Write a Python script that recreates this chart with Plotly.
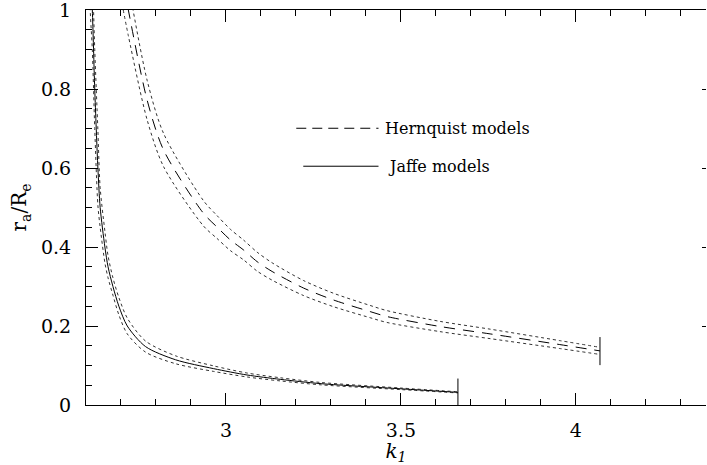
import plotly.graph_objects as go

# Jaffe models: central curve and dotted bounds
jaffe_k1 = [2.605, 2.612, 2.618, 2.625, 2.634, 2.6405, 2.654, 2.663, 2.677, 2.694, 2.718,
            2.770, 2.856, 2.965, 3.06, 3.155, 3.272, 3.50, 3.663]
jaffe_ra = [1.35, 1.1, 1.0, 0.8, 0.6, 0.5, 0.4, 0.35, 0.3, 0.25, 0.2,
            0.148, 0.1145, 0.092, 0.076, 0.065, 0.054, 0.041, 0.032]
jaffe_hi = [1.45, 1.2, 1.10, 0.90, 0.695, 0.55, 0.44, 0.378, 0.322, 0.272, 0.22,
            0.162, 0.1245, 0.099, 0.081, 0.069, 0.057, 0.043, 0.0335]
jaffe_lo = [1.25, 1.0, 0.90, 0.70, 0.505, 0.45, 0.36, 0.322, 0.278, 0.228, 0.18,
            0.134, 0.1045, 0.085, 0.071, 0.061, 0.051, 0.039, 0.0305]

# Hernquist models: central curve and dotted bounds
hern_k1 = [2.70, 2.721, 2.775, 2.822, 2.936, 2.974, 3.0125, 3.051, 3.089, 3.132, 3.222, 3.307,
           3.412, 3.46, 3.61, 3.755, 3.954, 4.069]
hern_ra = [1.10, 1.0, 0.771, 0.645, 0.485, 0.451, 0.418, 0.392, 0.363, 0.338, 0.296, 0.266,
           0.2365, 0.224, 0.199, 0.180, 0.153, 0.137]
hern_hi = [1.17, 1.065, 0.821, 0.687, 0.517, 0.480, 0.445, 0.417, 0.387, 0.360, 0.315, 0.283,
           0.252, 0.239, 0.212, 0.192, 0.163, 0.146]
hern_lo = [1.03, 0.935, 0.721, 0.603, 0.453, 0.422, 0.391, 0.367, 0.339, 0.316, 0.277, 0.249,
           0.221, 0.209, 0.186, 0.168, 0.143, 0.128]

# End-of-sequence error bars
jaffe_end_k1 = [3.663, 3.663]
jaffe_end_ra = [-0.003, 0.067]
hern_end_k1 = [4.069, 4.069]
hern_end_ra = [0.101, 0.172]

ytick_vals = [0, 0.2, 0.4, 0.6, 0.8, 1]
ytick_text = ["0", "0.2", "0.4", "0.6", "0.8", "1"]
xtick_vals = [3, 3.5, 4]
xtick_text = ["3", "3.5", "4"]
x_range = [2.6, 4.372]
y_range = [0, 1]

FONT = "DejaVu Serif"
fig = go.Figure()

def add(x, y, dash, width=1, color="black", shape="spline"):
    fig.add_trace(go.Scatter(x=x, y=y, mode="lines", showlegend=False, hoverinfo="skip",
                             line=dict(color=color, width=width, dash=dash, shape=shape,
                                       smoothing=0.8)))

add(jaffe_k1, jaffe_hi, "dot", color="#333")
add(jaffe_k1, jaffe_lo, "dot", color="#333")
add(jaffe_k1, jaffe_ra, "solid")
add(hern_k1, hern_hi, "dot", color="#333")
add(hern_k1, hern_lo, "dot", color="#333")
add(hern_k1, hern_ra, "11px,8px")
add(jaffe_end_k1, jaffe_end_ra, "solid", shape="linear")
add(hern_end_k1, hern_end_ra, "solid", shape="linear")

# invisible trace on the mirrored (top/right) axes so their ticks are drawn
fig.add_trace(go.Scatter(x=[x_range[0]], y=[y_range[0]], xaxis="x2", yaxis="y2", mode="markers",
                         marker=dict(opacity=0), showlegend=False, hoverinfo="skip"))

# legend (drawn inside the plot)
fig.add_shape(type="line", x0=3.201, x1=3.436, y0=0.7006, y1=0.7006,
              line=dict(color="black", width=1, dash="10px,6px"))
fig.add_shape(type="line", x0=3.221, x1=3.436, y0=0.6045, y1=0.6045,
              line=dict(color="black", width=1))
fig.add_annotation(x=3.449, y=0.7006, text="Hernquist models", showarrow=False,
                   xanchor="left", yanchor="middle", font=dict(family=FONT, size=16, color="black"))
fig.add_annotation(x=3.458, y=0.6045, text="Jaffe models", showarrow=False,
                   xanchor="left", yanchor="middle", font=dict(family=FONT, size=16, color="black"))

axis_common = dict(linecolor="black", linewidth=1,
                   ticks="inside", tickcolor="black", ticklen=12, tickwidth=1,
                   showgrid=False, zeroline=False, ticklabeloverflow="allow",
                   tickfont=dict(family=FONT, size=19, color="black"))
xminor = dict(ticks="inside", ticklen=6, dtick=0.1, tick0=0, tickcolor="black", showgrid=False)
yminor = dict(ticks="inside", ticklen=6, dtick=0.05, tick0=0, tickcolor="black", showgrid=False)

fig.update_layout(
    xaxis=dict(range=x_range, tickmode="array", tickvals=xtick_vals, ticktext=xtick_text,
               minor=xminor, showline=True,
               title=dict(text="<i>k</i><sub><i>1</i></sub>", font=dict(family=FONT, size=20, color="black"),
                          standoff=4),
               ticklabelstandoff=8, **axis_common),
    yaxis=dict(range=y_range, tickmode="array", tickvals=ytick_vals, ticktext=ytick_text,
               minor=yminor, showline=True,
               title=dict(text="r<sub>a</sub>/R<sub>e</sub>", font=dict(family=FONT, size=20, color="black"),
                          standoff=8),
               ticklabelstandoff=10, **axis_common),
    xaxis2=dict(range=x_range, overlaying="x", side="top", tickmode="array", tickvals=xtick_vals,
                showticklabels=False, minor=xminor, showline=True, **axis_common),
    yaxis2=dict(range=y_range, overlaying="y", side="right", tickmode="array", tickvals=ytick_vals,
                showticklabels=False, showline=False, linecolor="black", ticks="inside",
                tickcolor="black", ticklen=4, tickwidth=1, showgrid=False, zeroline=False),
    width=707, height=465, margin=dict(l=85.5, r=1, t=9.5, b=59.7, autoexpand=False),
    paper_bgcolor="white", plot_bgcolor="white", showlegend=False)

fig.write_html("out.html")
